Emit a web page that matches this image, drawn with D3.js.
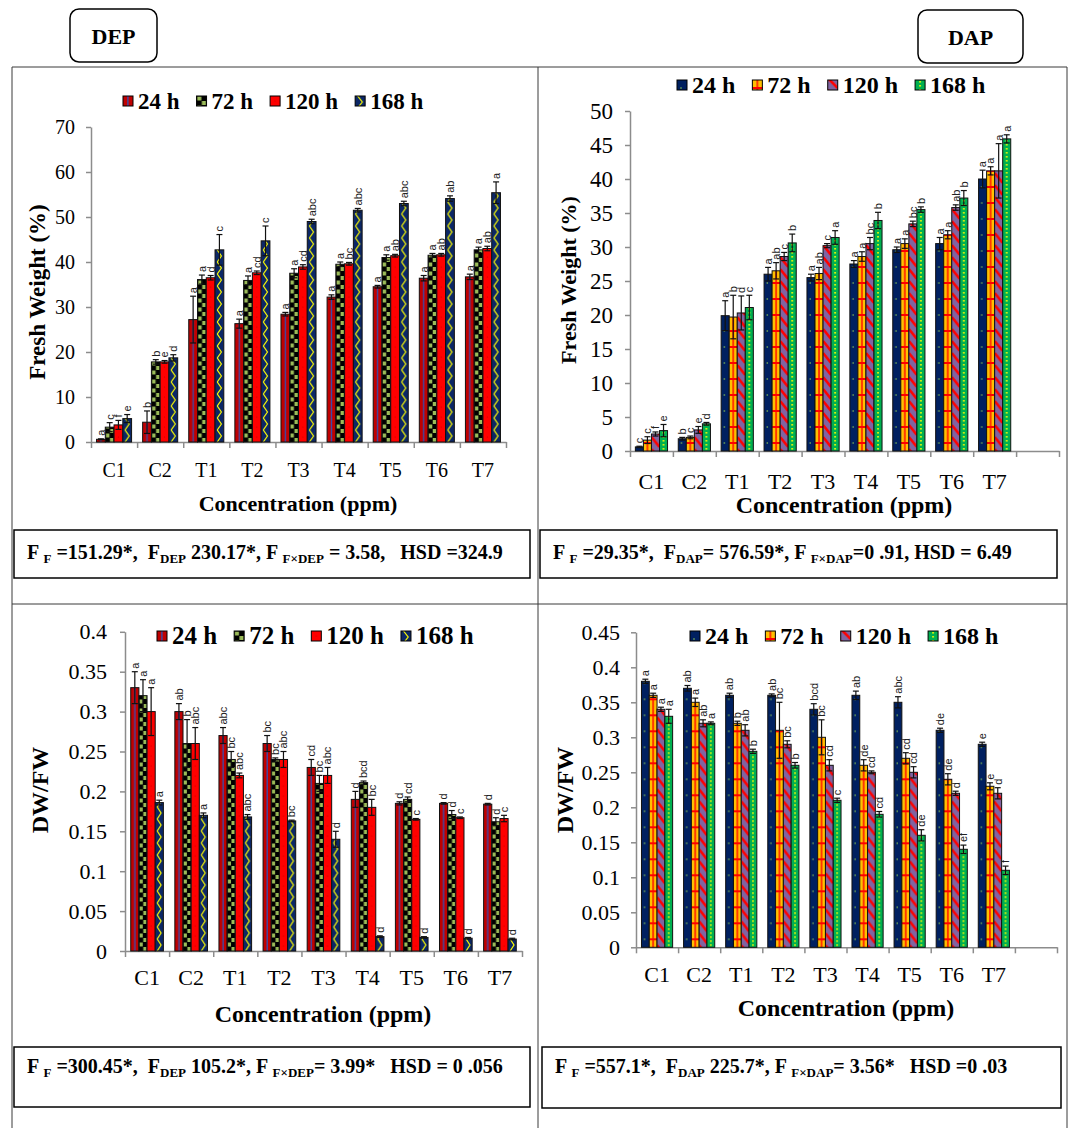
<!DOCTYPE html>
<html>
<head>
<meta charset="utf-8">
<script src="https://cdn.jsdelivr.net/npm/d3@7"></script>
<style>
  body { margin: 0; background: #fff; }
  text { white-space: pre; }
</style>
</head>
<body>
<div id="chart"></div>
<script>
var width = 1070,
    height = 1128;

var serif = "'Liberation Serif', 'Times New Roman', serif";
var sans = "'Liberation Sans', Arial, sans-serif";

// ---- data ----
var cats = ["C1", "C2", "T1", "T2", "T3", "T4", "T5", "T6", "T7"];
var hours = ["24 h", "72 h", "120 h", "168 h"];

// DEP, fresh weight (%) : one row per hour, one value per concentration
var depFwMean = [
  [0.6, 4.4, 27.2, 26.3, 28.4, 32.2, 34.5, 36.4, 36.7],
  [3.3, 17.8, 36.1, 35.9, 37.5, 39.5, 41.0, 41.5, 42.7],
  [3.8, 17.8, 36.5, 37.6, 38.9, 39.6, 41.4, 41.6, 43.0],
  [5.2, 18.7, 42.7, 44.7, 49.0, 51.5, 53.0, 54.1, 55.4]
];
var depFwErr = [
  [0.1, 2.5, 5.2, 1.0, 0.4, 0.5, 0.3, 0.6, 0.6],
  [1.0, 0.5, 1.0, 1.0, 1.0, 0.5, 0.6, 0.4, 0.6],
  [1.0, 0.3, 0.5, 0.4, 0.5, 0.3, 0.3, 0.3, 0.5],
  [0.9, 0.7, 3.4, 3.3, 0.5, 0.4, 0.5, 0.6, 2.4]
];
var depFwSig = [
  ["a", "b", "a", "a", "a", "a", "a", "a", "a"],
  ["c", "b", "a", "a", "a", "a", "a", "a", "a"],
  ["f", "e", "d", "cd", "cd", "bc", "ab", "ab", "ab"],
  ["e", "d", "c", "c", "abc", "abc", "abc", "ab", "a"]
];

// DAP, fresh weight (%)
var dapFwMean = [
  [0.6, 1.8, 19.9, 26.0, 25.5, 27.5, 29.6, 30.5, 40.0],
  [1.6, 2.0, 19.7, 26.5, 26.1, 28.6, 30.5, 31.8, 41.2],
  [2.5, 3.1, 20.3, 28.6, 30.2, 30.5, 33.4, 35.8, 41.2],
  [3.0, 4.0, 21.1, 30.6, 31.4, 33.9, 35.5, 37.2, 45.9]
];
var dapFwErr = [
  [0.1, 0.2, 2.2, 1.0, 0.5, 0.5, 0.4, 0.9, 1.3],
  [0.5, 0.2, 3.2, 1.2, 0.9, 0.7, 0.7, 0.6, 0.6],
  [0.3, 0.5, 2.5, 0.6, 0.3, 0.9, 0.4, 0.4, 4.0],
  [0.9, 0.2, 1.8, 1.3, 1.0, 1.2, 0.4, 1.1, 0.6]
];
var dapFwSig = [
  ["c", "b", "a", "a", "a", "a", "a", "a", "a"],
  ["c", "c", "b", "ab", "ab", "a", "a", "a", "a"],
  ["f", "e", "d", "c", "c", "bc", "bc", "ab", "a"],
  ["e", "d", "c", "b", "a", "b", "b", "b", "a"]
];

// DEP, DW/FW
var depDwMean = [
  [0.33, 0.30, 0.27, 0.26, 0.23, 0.19, 0.185, 0.185, 0.184],
  [0.32, 0.26, 0.24, 0.24, 0.21, 0.211, 0.19, 0.171, 0.162],
  [0.30, 0.26, 0.22, 0.24, 0.22, 0.18, 0.165, 0.167, 0.166],
  [0.186, 0.17, 0.168, 0.163, 0.14, 0.018, 0.017, 0.016, 0.015]
];
var depDwErr = [
  [0.02, 0.01, 0.01, 0.01, 0.01, 0.01, 0.002, 0.001, 0.001],
  [0.02, 0.03, 0.01, 0.002, 0.01, 0.002, 0.003, 0.005, 0.005],
  [0.03, 0.02, 0.003, 0.01, 0.01, 0.01, 0.001, 0.001, 0.004],
  [0.003, 0.003, 0.003, 0.001, 0.01, 0.001, 0.001, 0.001, 0.001]
];
var depDwSig = [
  ["a", "ab", "abc", "bc", "cd", "d", "d", "d", "d"],
  ["a", "b", "bc", "bc", "bc", "bcd", "cd", "d", "d"],
  ["a", "abc", "abc", "abc", "abc", "bc", "c", "c", "c"],
  ["a", "a", "abc", "bc", "d", "d", "d", "d", "d"]
];

// DAP, DW/FW
var dapDwMean = [
  [0.38, 0.37, 0.36, 0.36, 0.34, 0.36, 0.35, 0.31, 0.29],
  [0.36, 0.35, 0.32, 0.31, 0.30, 0.26, 0.27, 0.24, 0.23],
  [0.34, 0.32, 0.31, 0.29, 0.26, 0.25, 0.25, 0.22, 0.22],
  [0.33, 0.32, 0.28, 0.26, 0.21, 0.19, 0.16, 0.14, 0.11]
];
var dapDwErr = [
  [0.003, 0.004, 0.003, 0.002, 0.008, 0.006, 0.008, 0.003, 0.003],
  [0.003, 0.006, 0.003, 0.04, 0.025, 0.008, 0.008, 0.008, 0.005],
  [0.003, 0.005, 0.008, 0.005, 0.008, 0.002, 0.008, 0.003, 0.008],
  [0.01, 0.002, 0.003, 0.004, 0.003, 0.004, 0.008, 0.006, 0.006]
];
var dapDwSig = [
  ["a", "ab", "ab", "ab", "bcd", "ab", "abc", "de", "e"],
  ["a", "a", "b", "bc", "bc", "de", "cd", "de", "e"],
  ["a", "ab", "ab", "bc", "cd", "cd", "cd", "d", "d"],
  ["a", "a", "b", "b", "c", "cd", "de", "ef", "f"]
];

var fwTicks = d3.range(0, 71, 10);
var fwTicksDap = d3.range(0, 51, 5);
var dwTicks = d3.range(0, 9).map(function(i) { return +(i * 0.05).toFixed(2); });
var dwTicksDap = d3.range(0, 10).map(function(i) { return +(i * 0.05).toFixed(2); });

// ANOVA lines under each chart: [text, subscript?]
var statsDepFw = [["F ", 0], ["F", 1], [" =151.29*,  F", 0], ["DEP", 1], [" 230.17*, F ", 0], ["F\u00D7DEP", 1], [" = 3.58,   HSD =324.9", 0]];
var statsDapFw = [["F ", 0], ["F", 1], [" =29.35*,  F", 0], ["DAP", 1], ["= 576.59*, F ", 0], ["F\u00D7DAP", 1], ["=0 .91, HSD = 6.49", 0]];
var statsDepDw = [["F ", 0], ["F", 1], [" =300.45*,  F", 0], ["DEP", 1], [" 105.2*, F ", 0], ["F\u00D7DEP", 1], ["= 3.99*   HSD = 0 .056", 0]];
var statsDapDw = [["F ", 0], ["F", 1], [" =557.1*,  F", 0], ["DAP", 1], [" 225.7*, F ", 0], ["F\u00D7DAP", 1], ["= 3.56*   HSD =0 .03", 0]];

// ---- fill styles (Excel pattern fills) ----
var fills = {
  depA: { base: "#C00000", period: 10, draw: function(g, bw, h) {
    g.append("rect").attr("x", bw * 0.42).attr("width", 1.4).attr("height", h).attr("fill", "#3A4AA8");
  }},
  depB: { base: "#000000", period: 9, draw: function(g, bw, h) {
    g.append("rect").attr("x", 0.6).attr("y", 0.5).attr("width", bw / 2 - 0.8).attr("height", 4).attr("fill", "#9BBB59");
    g.append("rect").attr("x", bw / 2 + 0.3).attr("y", 5).attr("width", bw / 2 - 0.8).attr("height", 4).attr("fill", "#9BBB59");
  }},
  depC: { base: "#FF0000", period: 10, draw: function(g, bw, h) {
    g.append("circle").attr("cx", bw / 2).attr("cy", 5).attr("r", 0.6).attr("fill", "#C80000");
  }},
  depD: { base: "#0B2766", period: 12, draw: function(g, bw, h) {
    g.append("path").attr("d", "M" + bw * 0.25 + ",0 L" + bw * 0.72 + ",6 L" + bw * 0.25 + ",12")
      .attr("fill", "none").attr("stroke", "#FFFF00").attr("stroke-width", 1.2);
  }},
  dapA: { base: "#002060", period: 16, draw: function(g, bw, h) {
    g.append("circle").attr("cx", bw * 0.4).attr("cy", 8).attr("r", 0.8).attr("fill", "#92D050");
  }},
  dapB: { base: "#FFC000", period: 16, draw: function(g, bw, h) {
    g.append("rect").attr("y", 7).attr("width", bw).attr("height", 2).attr("fill", "#FF0000");
    g.append("rect").attr("x", bw / 2 - 0.7).attr("width", 1.4).attr("height", h).attr("fill", "#FF0000");
  }},
  dapC: { base: "#8064A2", period: 12, draw: function(g, bw, h) {
    [-12, 0, 12].forEach(function(o) {
      g.append("line").attr("x1", 0).attr("y1", o - 2).attr("x2", bw).attr("y2", o + 8)
        .attr("stroke", "#FF0000").attr("stroke-width", 2.6);
    });
  }},
  dapD: { base: "#00B050", period: 4, draw: function(g, bw, h) {
    g.append("rect").attr("x", bw / 2 - 0.8).attr("y", 1).attr("width", 1.6).attr("height", 1.6).attr("fill", "#FFFF00");
  }}
};

var svg = d3.select("#chart").append("svg")
    .attr("width", width)
    .attr("height", height);
svg.append("rect").attr("width", width).attr("height", height).attr("fill", "#fff");
var defs = svg.append("defs");

function makePattern(id, kind, x, y, w, bw) {
  var f = fills[kind];
  var pat = defs.append("pattern")
      .attr("id", id)
      .attr("patternUnits", "userSpaceOnUse")
      .attr("x", x).attr("y", y)
      .attr("width", w).attr("height", f.period);
  pat.append("rect").attr("width", w).attr("height", f.period).attr("fill", f.base);
  f.draw(pat, bw, f.period);
}

// ---- frame of the figure ----
var frame = svg.append("g").attr("stroke", "#3a3a3a").attr("stroke-width", 1);
frame.append("line").attr("x1", 12).attr("x2", 1067).attr("y1", 67).attr("y2", 67);
frame.append("line").attr("x1", 12).attr("x2", 1067).attr("y1", 604).attr("y2", 604);
[12, 538, 1067].forEach(function(x) {
  frame.append("line").attr("x1", x).attr("x2", x).attr("y1", 67).attr("y2", height);
});

function tagBox(x, y, w, h, label) {
  svg.append("rect").attr("x", x).attr("y", y).attr("width", w).attr("height", h)
    .attr("rx", 9).attr("fill", "#fff").attr("stroke", "#000").attr("stroke-width", 1.5);
  svg.append("text").attr("x", x + w / 2).attr("y", y + h / 2 + 8)
    .attr("text-anchor", "middle").attr("font-family", serif).attr("font-weight", "bold")
    .attr("font-size", 22).text(label);
}
tagBox(70, 9, 87, 53, "DEP");
tagBox(918, 10, 105, 53, "DAP");

function statsBox(x, y, w, h, tx, ty, parts) {
  svg.append("rect").attr("x", x).attr("y", y).attr("width", w).attr("height", h)
    .attr("fill", "none").attr("stroke", "#000").attr("stroke-width", 1.5);
  var t = svg.append("text").attr("x", tx).attr("y", ty)
    .attr("font-family", serif).attr("font-weight", "bold").attr("font-size", 20);
  var shifted = false;
  parts.forEach(function(p) {
    var s = t.append("tspan").text(p[0]);
    if (p[1]) {
      s.attr("font-size", 13).attr("dy", shifted ? 0 : 4);
      shifted = true;
    } else if (shifted) {
      s.attr("dy", -4);
      shifted = false;
    }
  });
}
statsBox(14, 530, 516, 48, 27, 559, statsDepFw);
statsBox(540, 530, 517, 48, 553, 559, statsDapFw);
statsBox(14, 1047, 516, 60, 27, 1073, statsDepDw);
statsBox(542, 1047, 519, 61, 555, 1073, statsDapDw);

// ---- one bar panel ----
function drawPanel(p) {
  var domain = p.extraSlot ? cats.concat([" "]) : cats;
  var x0 = d3.scaleBand().domain(domain).range([p.left, p.right])
      .paddingInner(p.pad).paddingOuter(p.pad / 2);
  var x1 = d3.scaleBand().domain(hours).range([0, x0.bandwidth()]);
  var y = d3.scaleLinear().domain([0, p.yMax]).range([p.bottom, p.top]);

  hours.forEach(function(h, i) {
    makePattern(p.id + i, p.kinds[i], x0(cats[0]) + x1(h), y(0), x0.step(), x1.bandwidth());
  });

  // y axis
  var ya = svg.append("g")
      .attr("transform", "translate(" + p.left + ",0)")
      .call(d3.axisLeft(y).tickValues(p.yTicks).tickSize(5).tickSizeOuter(0)
        .tickPadding(p.yPad).tickFormat(function(d) { return String(d); }));
  ya.selectAll("text").attr("font-family", serif).attr("font-size", p.yFont).attr("fill", "#000");

  // x axis: tick marks between categories
  var xb = d3.scaleLinear().domain([0, domain.length]).range([p.left, p.right]);
  svg.append("g")
      .attr("transform", "translate(0," + p.bottom + ")")
      .call(d3.axisBottom(xb).tickValues(d3.range(domain.length + 1)).tickFormat("").tickSize(6).tickSizeOuter(0));

  // category labels
  var xl = svg.append("g")
      .attr("transform", "translate(0," + p.bottom + ")")
      .call(d3.axisBottom(x0).tickSize(0).tickPadding(p.xPad));
  xl.select(".domain").remove();
  xl.selectAll("text").attr("font-family", serif).attr("font-size", p.xFont).attr("fill", "#000");

  svg.selectAll(".domain, .tick line").attr("stroke", "#8c8c8c").attr("stroke-width", 1.5);

  var recs = [];
  cats.forEach(function(c, j) {
    hours.forEach(function(h, i) {
      recs.push({ c: c, h: h, i: i, v: p.mean[i][j], e: p.err[i][j], s: p.sig[i][j] });
    });
  });

  var g = svg.append("g");
  g.selectAll("rect.bar")
    .data(recs)
    .enter().append("rect")
      .attr("class", "bar")
      .attr("x", function(d) { return x0(d.c) + x1(d.h); })
      .attr("y", function(d) { return y(d.v); })
      .attr("width", x1.bandwidth())
      .attr("height", function(d) { return y(0) - y(d.v); })
      .attr("fill", function(d) { return "url(#" + p.id + d.i + ")"; })
      .attr("stroke", "#111")
      .attr("stroke-width", 1);

  var cx = function(d) { return x0(d.c) + x1(d.h) + x1.bandwidth() / 2; };
  var eb = g.append("g").attr("stroke", "#111").attr("stroke-width", 1.2);
  eb.selectAll("line.v").data(recs).enter().append("line")
    .attr("x1", cx).attr("x2", cx)
    .attr("y1", function(d) { return y(Math.max(0, d.v - d.e)); })
    .attr("y2", function(d) { return y(d.v + d.e); });
  eb.selectAll("line.t").data(recs).enter().append("line")
    .attr("x1", function(d) { return cx(d) - 3; }).attr("x2", function(d) { return cx(d) + 3; })
    .attr("y1", function(d) { return y(d.v + d.e); }).attr("y2", function(d) { return y(d.v + d.e); });
  eb.selectAll("line.b").data(recs).enter().append("line")
    .attr("x1", function(d) { return cx(d) - 3; }).attr("x2", function(d) { return cx(d) + 3; })
    .attr("y1", function(d) { return y(Math.max(0, d.v - d.e)); }).attr("y2", function(d) { return y(Math.max(0, d.v - d.e)); });

  g.selectAll("text.sig").data(recs).enter().append("text")
    .attr("class", "sig")
    .attr("transform", function(d) { return "translate(" + cx(d) + "," + (y(d.v + d.e) - 3) + ") rotate(-90)"; })
    .attr("dy", "0.35em")
    .attr("font-family", sans).attr("font-size", 11).attr("fill", "#222")
    .text(function(d) { return d.s; });

  // axis titles
  svg.append("text")
    .attr("x", p.xTitle[0]).attr("y", p.xTitle[1])
    .attr("text-anchor", "middle").attr("font-family", serif).attr("font-weight", "bold")
    .attr("font-size", p.xTitle[2]).text("Concentration (ppm)");
  svg.append("text")
    .attr("transform", "translate(" + p.yTitle[0] + "," + p.yTitle[1] + ") rotate(-90)")
    .attr("text-anchor", "middle").attr("font-family", serif).attr("font-weight", "bold")
    .attr("font-size", p.yTitle[2]).text(p.yLabel);

  // legend
  var lx = p.legend[0], ly = p.legend[1], lf = p.legend[2];
  hours.forEach(function(h, i) {
    makePattern(p.id + "L" + i, p.kinds[i], lx, ly - 5, 10, 10);
    svg.append("rect").attr("x", lx).attr("y", ly - 5).attr("width", 10).attr("height", 10)
      .attr("fill", "url(#" + p.id + "L" + i + ")").attr("stroke", "#000").attr("stroke-width", 1);
    var t = svg.append("text").attr("x", lx + 15).attr("y", ly + lf * 0.33)
      .attr("font-family", serif).attr("font-weight", "bold").attr("font-size", lf).text(h);
    lx += 15 + t.node().getComputedTextLength() + 17;
  });
}

drawPanel({
  id: "depfw", mean: depFwMean, err: depFwErr, sig: depFwSig,
  kinds: ["depA", "depB", "depC", "depD"],
  left: 91, right: 506, bottom: 442, top: 127, yMax: 70, yTicks: fwTicks,
  pad: 0.24, yPad: 11, yFont: 20, xPad: 21, xFont: 20,
  xTitle: [298, 511, 22], yTitle: [45, 292, 23], yLabel: "Fresh Weight (%)",
  legend: [123, 101, 23]
});
drawPanel({
  id: "dapfw", mean: dapFwMean, err: dapFwErr, sig: dapFwSig, extraSlot: true,
  kinds: ["dapA", "dapB", "dapC", "dapD"],
  left: 630, right: 1059, bottom: 451, top: 111, yMax: 50, yTicks: fwTicksDap,
  pad: 0.25, yPad: 12, yFont: 23, xPad: 22, xFont: 22,
  xTitle: [844, 513, 24], yTitle: [576, 280, 22], yLabel: "Fresh Weight (%)",
  legend: [677, 85, 24]
});
drawPanel({
  id: "depdw", mean: depDwMean, err: depDwErr, sig: depDwSig,
  kinds: ["depA", "depB", "depC", "depD"],
  left: 125, right: 522, bottom: 951, top: 631.8, yMax: 0.4, yTicks: dwTicks,
  pad: 0.26, yPad: 13, yFont: 22, xPad: 18, xFont: 22,
  xTitle: [323, 1022, 24], yTitle: [48, 790, 24], yLabel: "DW/FW",
  legend: [157, 636, 25]
});
drawPanel({
  id: "dapdw", mean: dapDwMean, err: dapDwErr, sig: dapDwSig, extraSlot: true,
  kinds: ["dapA", "dapB", "dapC", "dapD"],
  left: 636, right: 1057, bottom: 947.3, top: 632.3, yMax: 0.45, yTicks: dwTicksDap,
  pad: 0.26, yPad: 11, yFont: 22, xPad: 19, xFont: 22,
  xTitle: [846, 1016, 24], yTitle: [573, 790, 24], yLabel: "DW/FW",
  legend: [690, 636, 24]
});
</script>
</body>
</html>
